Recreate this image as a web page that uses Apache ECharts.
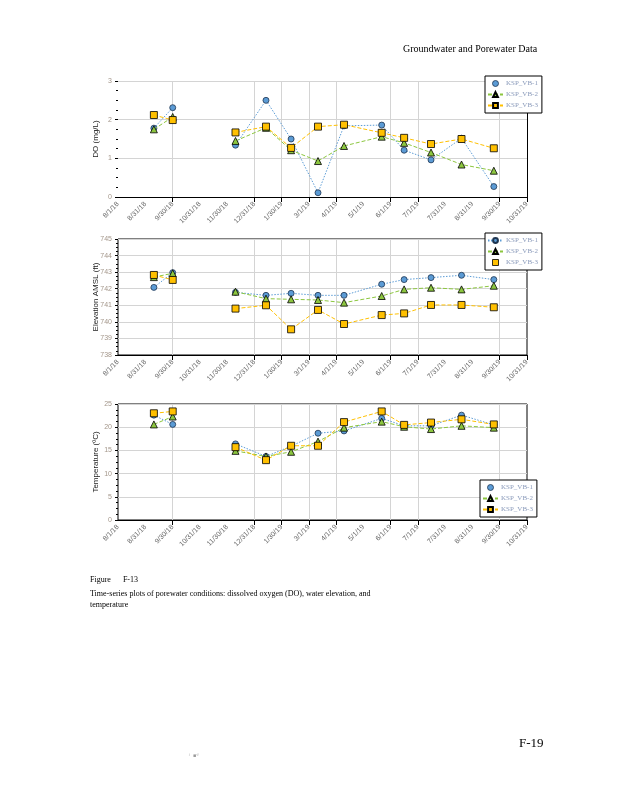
<!DOCTYPE html>
<html><head><meta charset="utf-8">
<script src="https://cdn.jsdelivr.net/npm/echarts@6/dist/echarts.min.js"></script>
<style>html,body{margin:0;padding:0;background:#fff}#c{width:618px;height:800px}</style>
</head><body><div id="c"></div>
<script>
// ---- data ----
const axisStart = '2018-08-01';
const axisEnd = '2019-10-31';
const tickLabels = ['8/1/18','8/31/18','9/30/18','10/31/18','11/30/18','12/31/18','1/30/19','3/1/19','4/1/19','5/1/19','6/1/19','7/1/19','7/31/19','8/31/19','9/30/19','10/31/19'];
const gridTickIdx = [2,5,6,7,8,10,11,14];
const sampleDates = ['2018-09-10','2018-10-01','2018-12-10','2019-01-13','2019-02-10','2019-03-12','2019-04-10','2019-05-22','2019-06-16','2019-07-16','2019-08-19','2019-09-24'];
const gapAfter = 1; // no line between 2nd and 3rd sampling
const seriesNames = ['KSP_VB-1','KSP_VB-2','KSP_VB-3'];
const doVB1 = [1.78, 2.31, 1.34, 2.50, 1.50, 0.11, 1.84, 1.86, 1.21, 0.96, 1.52, 0.27];
const doVB2 = [1.75, 2.07, 1.45, 1.79, 1.21, 0.93, 1.32, 1.56, 1.40, 1.15, 0.84, 0.68];
const doVB3 = [2.12, 1.99, 1.67, 1.82, 1.27, 1.82, 1.87, 1.66, 1.53, 1.37, 1.50, 1.26];
const elVB1 = [742.08, 742.97, 741.78, 741.60, 741.72, 741.60, 741.60, 742.27, 742.55, 742.67, 742.81, 742.55];
const elVB2 = [742.70, 742.93, 741.82, 741.40, 741.36, 741.32, 741.16, 741.56, 741.96, 742.06, 741.96, 742.18];
const elVB3 = [742.83, 742.53, 740.80, 741.00, 739.55, 740.72, 739.87, 740.41, 740.51, 741.02, 741.02, 740.88];
const tVB1 = [22.6, 20.6, 16.4, 13.7, 15.9, 18.7, 19.2, 21.9, 20.3, 20.3, 22.6, 20.5];
const tVB2 = [20.6, 22.3, 14.9, 13.7, 14.7, 16.9, 19.9, 21.2, 20.1, 19.6, 20.3, 19.9];
const tVB3 = [23.0, 23.4, 15.7, 12.9, 16.0, 16.0, 21.1, 23.4, 20.5, 21.0, 21.7, 20.6];

// ---- helpers ----
const DAY = 86400000;
const t0 = Date.parse(axisStart + 'T00:00:00Z');
const dayOf = s => (Date.parse(s + 'T00:00:00Z') - t0) / DAY;
const xMax = dayOf(axisEnd);
function pts(vals){
  const out = [];
  vals.forEach((v,i)=>{
    out.push([dayOf(sampleDates[i]), v]);
    if (i === gapAfter) out.push([dayOf(sampleDates[i]), null]);
  });
  return out;
}
const styles = [
  {color:'#5b9bd5', symbol:'circle', size:6, type:[1.5,1.5], border:'#1f3550'},
  {color:'#8cc63f', symbol:'triangle', size:7, type:[4,2], border:'#000'},
  {color:'#ffc000', symbol:'rect', size:7, type:[4,2], border:'#000'}
];
const grids = [
  {top:81, height:116, yMin:0, yMax:3, interval:1, name:'DO (mg/L)', data:[doVB1,doVB2,doVB3], border:false},
  {top:239, height:116, yMin:738, yMax:745, interval:1, name:'Elevation AMSL (ft)', data:[elVB1,elVB2,elVB3], border:true},
  {top:404, height:116, yMin:0, yMax:25, interval:5, name:'Temperature (ºC)', data:[tVB1,tVB2,tVB3], border:true}
];
const circleIcon = 'path://M0,0m-2.5,0a2.5,2.5 0 1,0 5,0a2.5,2.5 0 1,0 -5,0';
const squareIcon = 'path://M0,0h5v5h-5z';
const legendPos = [
  {left:485, top:76, icons:[circleIcon, null, null]},
  {left:485, top:233, icons:[null, null, squareIcon]},
  {left:480, top:480, icons:[circleIcon, null, null]}
];
const gridSet = new Set(gridTickIdx);
const option = {
  animation:false,
  grid:[], xAxis:[], yAxis:[], series:[], legend:[],
  graphic:[
    {type:'text', left:403, top:44, style:{text:'Groundwater and Porewater Data', font:'10px "Liberation Serif"', fill:'#000'}},
    {type:'text', left:90, top:576, style:{text:'Figure      F-13', font:'8px "Liberation Serif"', fill:'#000'}},
    {type:'text', left:90, top:588, style:{text:'Time-series plots of porewater conditions: dissolved oxygen (DO), water elevation, and\ntemperature', font:'8px "Liberation Serif"', lineHeight:11, fill:'#000'}},
    {type:'text', left:519, top:737, style:{text:'F-19', font:'13px "Liberation Serif"', fill:'#000'}},
    {type:'text', left:189, top:753, style:{text:'ʲ  ▪ᵈ', font:'5px "DejaVu Sans"', fill:'#999'}}
  ]
};
grids.forEach((g, gi)=>{
  option.grid.push({left:118, width:409, top:g.top, height:g.height, show:g.border, borderColor:'#000', borderWidth:1, backgroundColor:'transparent'});
  option.xAxis.push({type:'value', gridIndex:gi, min:0, max:xMax, show:false});
  option.xAxis.push({type:'category', gridIndex:gi, data:tickLabels, boundaryGap:false, position:'bottom',
    axisLine:{show:true, lineStyle:{color:'#000', width:1}},
    axisTick:{show:true, length:5, interval:(i)=>gridSet.has(i) || i===tickLabels.length-1, lineStyle:{color:'#000'}},
    splitLine:{show:true, interval:(i)=>gridSet.has(i), lineStyle:{color:'#d4d4d4', width:1}},
    axisLabel:{show:true, interval:0, rotate:45, fontSize:7, color:'#666', fontFamily:'Liberation Sans', margin:6}
  });
  option.yAxis.push({type:'value', gridIndex:gi, min:g.yMin, max:g.yMax, interval:g.interval,
    name:g.name, nameLocation:'middle', nameGap:18, nameMoveOverlap:false,
    nameTextStyle:{fontSize:8, color:'#222', fontFamily:'Liberation Sans'},
    axisLine:{show:false},
    axisTick:{show:true, length:3, lineStyle:{color:'#000'}},
    minorTick:{show:true, splitNumber:4, length:2, lineStyle:{color:'#000'}},
    splitLine:{show:true, lineStyle:{color:'#d4d4d4', width:1}},
    axisLabel:{fontSize:7, color:'#a3968a', fontFamily:'Liberation Sans', margin:6}
  });
  g.data.forEach((vals, si)=>{
    const s = styles[si];
    option.series.push({name:seriesNames[si], type:'line', xAxisIndex:gi*2, yAxisIndex:gi,
      data:pts(vals), symbol:s.symbol, symbolSize:s.size, connectNulls:false,
      lineStyle:{color:s.color, width:1, type:s.type},
      itemStyle:{color:s.color, borderColor:s.border, borderWidth:0.8}, z:3+si});
  });
  const lp = legendPos[gi];
  option.legend.push({orient:'vertical', left:lp.left, top:lp.top, itemWidth:15, itemHeight:6, itemGap:4,
    padding:[4,4,4,2], borderColor:'#000', borderWidth:1, backgroundColor:'#fff',
    textStyle:{fontSize:7, color:'#8b9bbb', fontFamily:'Liberation Serif', padding:[0,0,0,-2]},
    selectedMode:false,
    data:seriesNames.map((n,i)=> lp.icons[i] ? {name:n, icon:lp.icons[i], itemStyle:{borderWidth:0.8}} : {name:n})
  });
});
// right border for first chart
option.yAxis.push({type:'value', gridIndex:0, min:0, max:3, position:'right', axisLine:{show:true, lineStyle:{color:'#000'}}, axisTick:{show:false}, axisLabel:{show:false}, splitLine:{show:false}});
const chart = echarts.init(document.getElementById('c'), null, {renderer:'canvas'});
chart.setOption(option);
</script></body></html>
